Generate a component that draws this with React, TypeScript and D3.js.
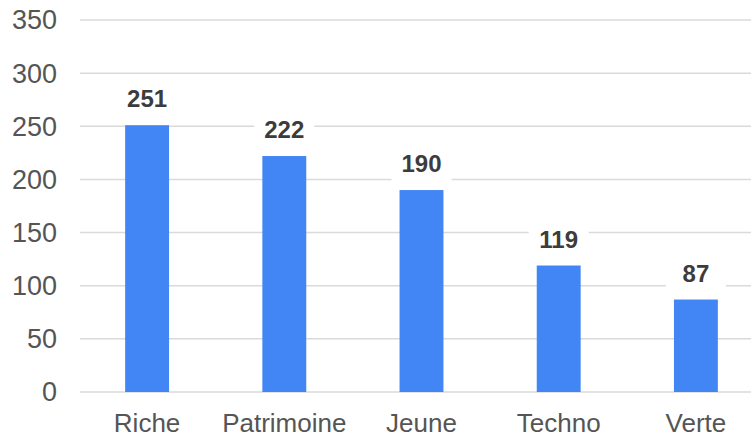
import React from "react";
import * as d3 from "d3";

const categories = ["Riche", "Patrimoine", "Jeune", "Techno", "Verte"];
const values = [251, 222, 190, 119, 87];
const yTicks = [0, 50, 100, 150, 200, 250, 300, 350];

const W = 751;
const H = 437;
const FONT = "'Liberation Sans', Arial, sans-serif";

export default function App() {
  const x = d3.scaleBand<string>().domain(categories).range([78.5, 764.5]).paddingInner(0.68).paddingOuter(0.34);
  const y = d3.scaleLinear().domain([0, 350]).range([392, 20]);
  const gridLeft = 80;

  return (
    <svg width={W} height={H} style={{ position: "absolute", left: 0, top: 0, background: "#fff" }}>
      {yTicks.map((t) => (
        <g key={t}>
          <line x1={gridLeft} x2={W} y1={y(t)} y2={y(t)} stroke="#dadada" strokeWidth={1.5} />
          <text x={57} y={y(t)} dy="0.35em" textAnchor="end" fontFamily={FONT} fontSize={27} fill="#555">
            {t}
          </text>
        </g>
      ))}
      {categories.map((c, i) => {
        const bx = x(c)!;
        const bw = x.bandwidth();
        const top = y(values[i]);
        const cx = bx + bw / 2;
        return (
          <g key={c}>
            <rect x={bx} y={top} width={bw} height={y(0) - top} fill="#4285f4" />
            <rect x={cx - 30} y={top - 40} width={60} height={32} fill="#fff" />
            <text x={cx} y={top - 18} textAnchor="middle" fontFamily={FONT} fontSize={24} fontWeight="bold" fill="#3c3c3c">
              {values[i]}
            </text>
            <text x={cx} y={432} textAnchor="middle" fontFamily={FONT} fontSize={26} fill="#555">
              {c}
            </text>
          </g>
        );
      })}
    </svg>
  );
}
